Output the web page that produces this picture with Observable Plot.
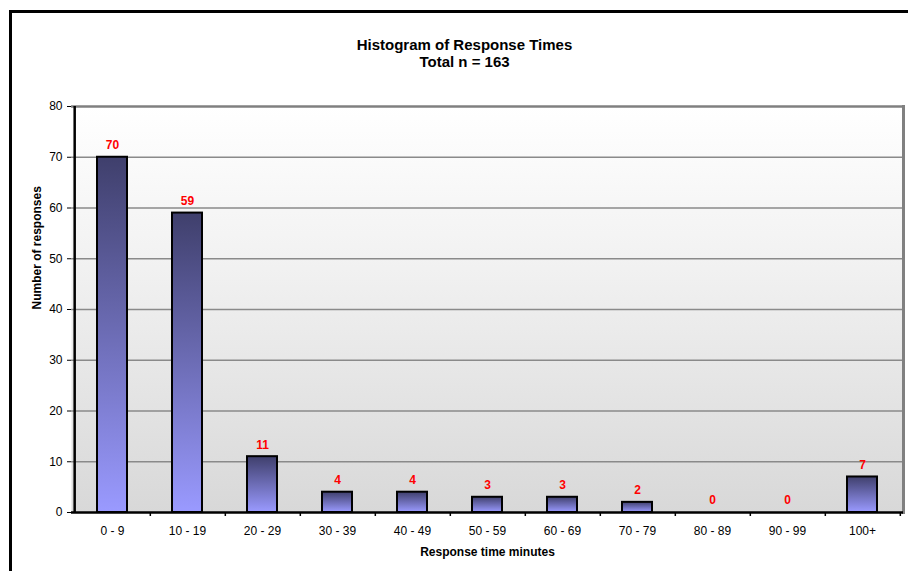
<!DOCTYPE html>
<html>
<head>
<meta charset="utf-8">
<script src="https://cdn.jsdelivr.net/npm/d3@7"></script>
<script src="https://cdn.jsdelivr.net/npm/@observablehq/plot@0.6"></script>
<style>
  html, body { margin: 0; padding: 0; background: #fff; overflow: hidden; }
  #wrap { position: relative; width: 908px; height: 571px; overflow: hidden; }
  #border { position: absolute; left: 9px; top: 10px; width: 940px; height: 620px; border: 3px solid #000; box-sizing: border-box; }
  #chart { position: absolute; left: 0; top: 0; }
  svg { font-family: "Liberation Sans", Arial, sans-serif; }
</style>
</head>
<body>
<div id="wrap">
  <div id="border"></div>
  <div id="chart"></div>
</div>
<script>
const categories = ["0 - 9", "10 - 19", "20 - 29", "30 - 39", "40 - 49", "50 - 59", "60 - 69", "70 - 79", "80 - 89", "90 - 99", "100+"];
const counts = [70, 59, 11, 4, 4, 3, 3, 2, 0, 0, 7];
const yTicks = [0, 10, 20, 30, 40, 50, 60, 70, 80];
const titleLines = ["Histogram of Response Times", "Total n = 163"];
const xLabel = "Response time minutes";
const yLabel = "Number of responses";

const data = categories.map((c, i) => ({ category: c, count: counts[i] }));

const W = 908, H = 571;
const mL = 71, mR = 5, mT = 106, mB = 59;
const step = (W - mL - mR) / categories.length;

const plot = Plot.plot({
  width: W,
  height: H,
  marginLeft: mL,
  marginRight: mR,
  marginTop: mT,
  marginBottom: mB,
  style: { fontFamily: "'Liberation Sans', Arial, sans-serif", fontSize: "12px", background: "transparent", overflow: "visible" },
  x: { domain: categories, paddingInner: 0.6, paddingOuter: 0.3, label: null },
  y: { domain: [0, 80], ticks: yTicks, label: null },
  marks: [
    Plot.frame({ fill: "url(#bgGrad)", stroke: null }),
    Plot.gridY(yTicks.filter(d => d > 0 && d < 80), { stroke: "#8a8a8a", strokeWidth: 1.6, strokeOpacity: 1 }),
    Plot.ruleY([80], { stroke: "#808080", strokeWidth: 2.5 }),
    Plot.frame({ anchor: "right", stroke: "#808080", strokeWidth: 3 }),
    Plot.barY(data.filter(d => d.count > 0), { x: "category", y: "count", fill: "url(#barGrad)", stroke: "#000", strokeWidth: 2 }),
    Plot.text(data, { x: "category", y: "count", text: d => String(d.count), dy: -12, fill: "#ff0000", fontWeight: "bold", fontSize: 12 }),
    Plot.axisY({ ticks: yTicks, tickSize: 4, tickPadding: 5, label: null, fontSize: 12, fill: "#000" }),
    Plot.axisX({ tickSize: 0, tickPadding: 14, label: null, fontSize: 12, fill: "#000" }),
    Plot.axisX({ tickSize: 4, tickFormat: () => "", label: null, dx: step / 2, stroke: "#000", strokeWidth: 1.5 }),
    Plot.ruleX([categories[0]], { x: d => d, dx: -step / 2, stroke: "#000", strokeWidth: 2.5 }),
    Plot.ruleY([0], { stroke: "#000", strokeWidth: 2.5 }),
    Plot.text([titleLines[0]], { frameAnchor: "top", text: d => d, dx: -23, dy: -61, fontWeight: "bold", fontSize: 15, fill: "#000", lineAnchor: "middle" }),
    Plot.text([titleLines[1]], { frameAnchor: "top", text: d => d, dx: -23, dy: -44, fontWeight: "bold", fontSize: 15, fill: "#000", lineAnchor: "middle" }),
    Plot.text([xLabel], { frameAnchor: "bottom", text: d => d, dy: 40, fontWeight: "bold", fontSize: 12, fill: "#000", lineAnchor: "middle" }),
    Plot.text([yLabel], { frameAnchor: "left", text: d => d, dx: -34, rotate: -90, fontWeight: "bold", fontSize: 12, fill: "#000", lineAnchor: "middle" })
  ]
});

const svg = d3.select(plot);
const defs = svg.insert("defs", ":first-child");
const bg = defs.append("linearGradient").attr("id", "bgGrad").attr("x1", 0).attr("y1", 0).attr("x2", 0).attr("y2", 1);
bg.append("stop").attr("offset", "0%").attr("stop-color", "#ffffff");
bg.append("stop").attr("offset", "40%").attr("stop-color", "#f1f1f1");
bg.append("stop").attr("offset", "100%").attr("stop-color", "#d8d8d8");
const bar = defs.append("linearGradient").attr("id", "barGrad").attr("x1", 0).attr("y1", 0).attr("x2", 0).attr("y2", 1);
bar.append("stop").attr("offset", "0%").attr("stop-color", "#3f3f6c");
bar.append("stop").attr("offset", "100%").attr("stop-color", "#9a9aff");

document.getElementById("chart").appendChild(plot);
</script>
</body>
</html>
